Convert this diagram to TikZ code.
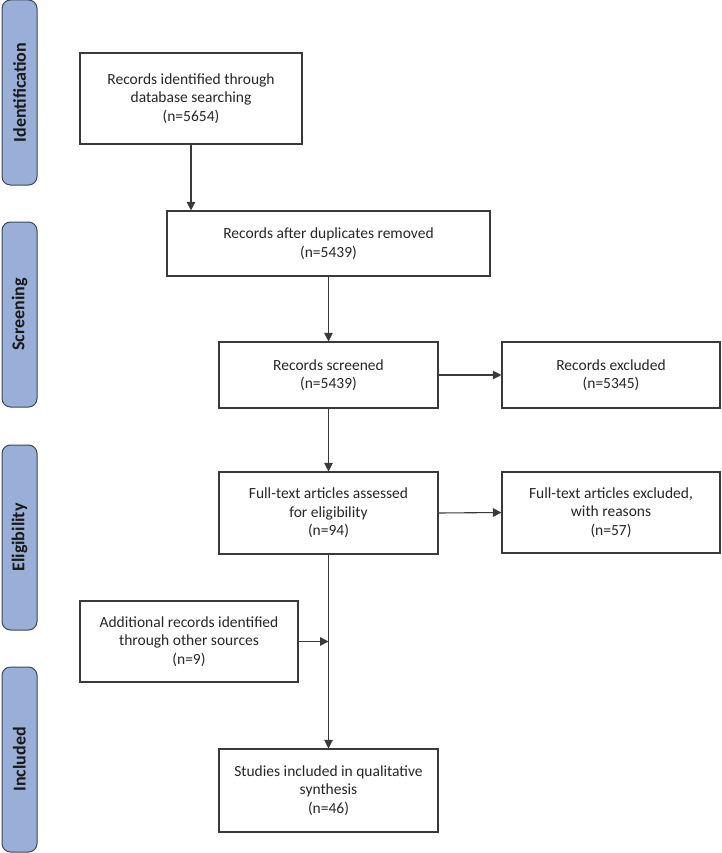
\documentclass[tikz,border=0pt]{standalone}
\usepackage{fontspec}
\setmainfont{Carlito}
\usetikzlibrary{arrows.meta}
\definecolor{linec}{HTML}{3A3A3A}
\definecolor{barfill}{HTML}{9AAFD8}
\definecolor{barborder}{HTML}{3C475C}
\begin{document}
\begin{tikzpicture}[x=1pt,y=-1pt,
  box/.style={draw=linec, line width=1.1pt, fill=white, align=center,
    font=\fontsize{15.5}{18.5}\selectfont, text=black!85, inner sep=0pt},
  bar/.style={draw=barborder, fill=barfill, rounded corners=8.5pt, line width=1pt,
    minimum width=35pt, minimum height=185pt, inner sep=0pt},
  bartext/.style={rotate=90, font=\bfseries\fontsize{18}{20}\selectfont, text=black!90},
  arr/.style={draw=linec, line width=1.1pt, -{Triangle[length=8.5pt,width=8.5pt]}}]
\useasboundingbox (0,0) rectangle (721,853);
% phase bars
\node[bar] (bid) at (19.5,92.5) {};
\node[bartext] (tid) at (bid) {Identification};
\node[bar] (bsc) at (19.5,314.5) {};
\node[bartext] (tsc) at (bsc) {Screening};
\node[bar] (bel) at (19.5,537.5) {};
\node[bartext] (tel) at (bel) {Eligibility};
\node[bar] (bin) at (19.5,759.5) {};
\node[bartext] (tin) at (bin) {Included};
% boxes
\node[box, minimum width=222pt, minimum height=91pt] (id) at (191,98.5)
  {Records identified through\\database searching\\(n=5654)};
\node[box, minimum width=323pt, minimum height=65pt] (dup) at (328.5,243.5)
  {Records after duplicates removed\\(n=5439)};
\node[box, minimum width=219pt, minimum height=66pt] (scr) at (328.5,375)
  {Records screened\\(n=5439)};
\node[box, minimum width=218pt, minimum height=66pt] (exc) at (611,375)
  {Records excluded\\(n=5345)};
\node[box, minimum width=219pt, minimum height=82pt] (ft) at (328.5,513)
  {Full-text articles assessed\\for eligibility\\(n=94)};
\node[box, minimum width=218pt, minimum height=81pt] (ftx) at (611,512.5)
  {Full-text articles excluded,\\with reasons\\(n=57)};
\node[box, minimum width=218pt, minimum height=81pt] (add) at (189,641.5)
  {Additional records identified\\through other sources\\(n=9)};
\node[box, minimum width=219pt, minimum height=83pt] (inc) at (328.5,790.5)
  {Studies included in qualitative\\synthesis\\(n=46)};
% connectors
\draw[arr] (id.south) -- (id.south |- dup.north);
\draw[arr] (dup.south) -- (scr.north);
\draw[arr] (scr.east) -- (exc.west);
\draw[arr] (scr.south) -- (ft.north);
\draw[arr] (ft.east) -- (ftx.west);
\draw[arr] (ft.south) -- (inc.north);
\coordinate (join) at (ft.south |- add.east);
\draw[arr] (add.east) -- (join);
\end{tikzpicture}
\end{document}
